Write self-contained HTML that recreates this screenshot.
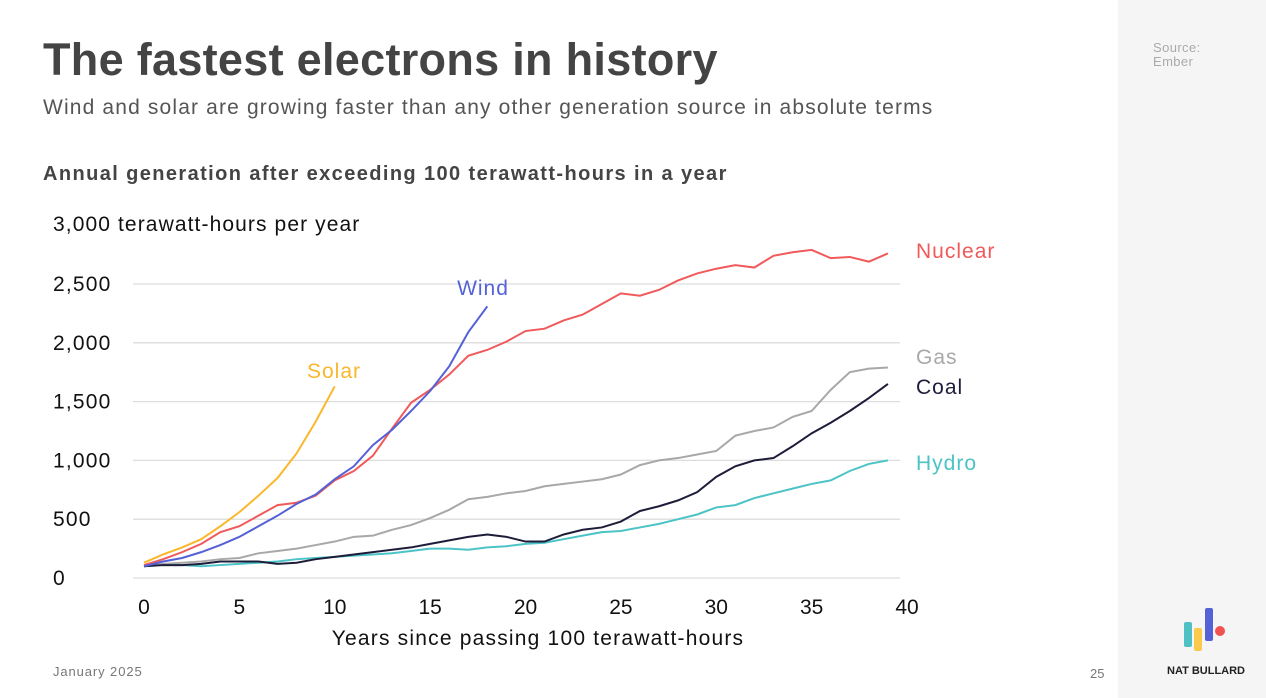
<!DOCTYPE html>
<html><head><meta charset="utf-8"><style>
body{margin:0;width:1266px;height:698px;background:#fff;font-family:"Liberation Sans",sans-serif;position:relative;overflow:hidden}
.side{position:absolute;left:1118px;top:0;width:148px;height:698px;background:#f5f5f5}
</style></head><body>
<div class="side"></div>
<div style="position:absolute;left:1153px;top:41px;font-size:13px;color:#aaa;line-height:14px;letter-spacing:0.4px">Source:<br>Ember</div>
<div style="position:absolute;left:43px;top:34px;font-size:45px;font-weight:bold;color:#444;letter-spacing:0.3px">The fastest electrons in history</div>
<div style="position:absolute;left:43px;top:96px;font-size:21px;color:#555;letter-spacing:1.15px">Wind and solar are growing faster than any other generation source in absolute terms</div>
<div style="position:absolute;left:43px;top:163px;font-size:20px;font-weight:bold;color:#444;letter-spacing:1.4px">Annual generation after exceeding 100 terawatt-hours in a year</div>
<div style="position:absolute;left:53px;top:664px;font-size:13px;color:#777;letter-spacing:0.9px">January 2025</div>
<div style="position:absolute;left:1090px;top:666px;font-size:13px;color:#777">25</div>
<svg style="position:absolute;left:1180px;top:605px" width="50" height="48">
<rect x="4" y="17" width="8" height="25" rx="2" fill="#4fc0c4"/>
<rect x="14" y="23" width="8" height="23" rx="2" fill="#fcc94f"/>
<rect x="25" y="3" width="8" height="33" rx="2" fill="#5561d6"/>
<circle cx="40" cy="26" r="5" fill="#f05252"/></svg>
<div style="position:absolute;left:1167px;top:665px;font-size:11px;font-weight:bold;color:#222">NAT BULLARD</div>
<svg id="chart" width="1266" height="698" style="position:absolute;left:0;top:0"></svg>
<script>
const years=[...Array(40).keys()];
const solar=[130,200,260,330,440,560,700,850,1060,1330,1630];
const wind=[100,140,170,220,280,350,440,530,630,710,840,950,1130,1260,1420,1590,1800,2090,2310];
const nuclear=[110,160,220,290,390,440,530,620,640,700,830,910,1040,1270,1490,1600,1730,1890,1940,2010,2100,2120,2190,2240,2330,2420,2400,2450,2530,2590,2630,2660,2640,2740,2770,2790,2720,2730,2690,2760];
const gas=[100,120,130,140,160,170,210,230,250,280,310,350,360,410,450,510,580,670,690,720,740,780,800,820,840,880,960,1000,1020,1050,1080,1210,1250,1280,1370,1420,1600,1750,1780,1790];
const coal=[100,110,110,120,140,140,140,120,130,160,180,200,220,240,260,290,320,350,370,350,310,310,370,410,430,480,570,610,660,730,860,950,1000,1020,1120,1230,1320,1420,1530,1650];
const hydro=[100,110,110,100,110,120,130,140,160,170,180,190,200,210,230,250,250,240,260,270,290,300,330,360,390,400,430,460,500,540,600,620,680,720,760,800,830,910,970,1000];
const yTicks=[0,500,1000,1500,2000,2500];
const yTickLabels=["0","500","1,000","1,500","2,000","2,500"];
const xTicks=[0,5,10,15,20,25,30,35,40];
const X=v=>144+v*19.075, Y=v=>578-v*0.1176;
const svg=document.getElementById('chart'),NS='http://www.w3.org/2000/svg';
function mk(t,a,txt){const e=document.createElementNS(NS,t);for(const k in a)e.setAttribute(k,a[k]);if(txt!=null)e.textContent=txt;svg.appendChild(e);return e;}
yTicks.forEach((v,i)=>{
 const g=mk('line',{x1:133,x2:900,y1:Y(v),y2:Y(v),stroke:'#ddd','stroke-width':1.3});
 
 
 const t=mk('text',{x:53,y:Y(v)+7,'font-size':21,fill:'#111','letter-spacing':1.2},yTickLabels[i]);
 
 
});
const yt=mk('text',{x:53,y:231,'font-size':21,fill:'#111','letter-spacing':1.1},'3,000 terawatt-hours per year');


xTicks.forEach(v=>{
 const t=mk('text',{x:X(v),y:614,'font-size':21,fill:'#111','text-anchor':'middle'},String(v));
 
 
});
const xt=mk('text',{x:538,y:645,'font-size':21,fill:'#111','text-anchor':'middle','letter-spacing':1.2},'Years since passing 100 terawatt-hours');


const series=[['hydro',hydro,'#4cc3c6'],['gas',gas,'#a8a8a8'],['coal',coal,'#1d1d3a'],['nuclear',nuclear,'#f05a5a'],['wind',wind,'#5561d6'],['solar',solar,'#fbb72c']];
series.forEach(([n,d,c])=>{
 const p=mk('polyline',{points:d.map((v,i)=>X(years[i])+','+Y(v)).join(' '),fill:'none',stroke:c,'stroke-width':2});
 
 
});
const labels=[['Nuclear',916,258,'#f05a5a','start'],['Gas',916,364,'#a8a8a8','start'],['Coal',916,394,'#1d1d3a','start'],['Hydro',916,470,'#4cc3c6','start'],['Wind',483,295,'#5561d6','middle'],['Solar',334,378,'#fbb72c','middle']];
labels.forEach(([t,x,y,c,a])=>{
 const e=mk('text',{x:x,y:y,'font-size':21,fill:c,'text-anchor':a,'letter-spacing':1},t);
 
 
});
</script>
</body></html>
